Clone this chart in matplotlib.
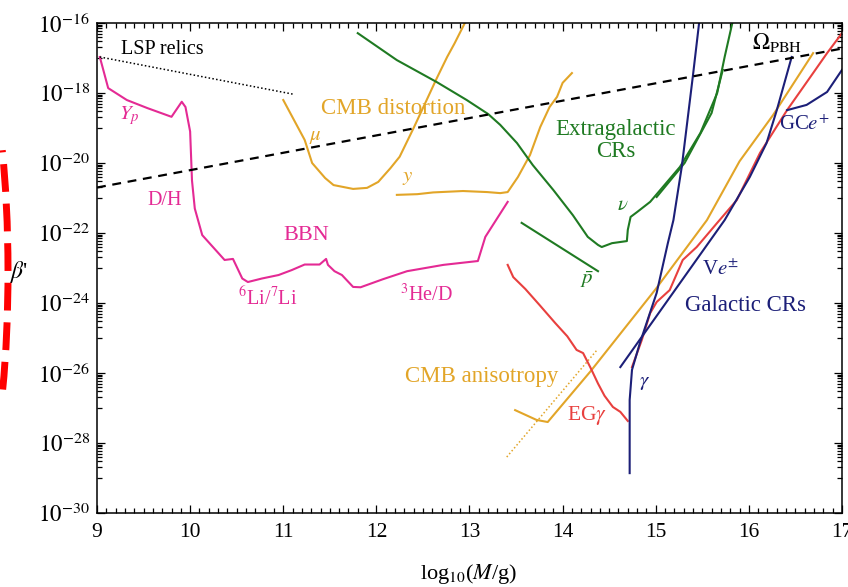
import matplotlib
matplotlib.use("Agg")
import matplotlib.pyplot as plt
import numpy as np
from matplotlib.patches import Arc
from matplotlib.ticker import FixedLocator, FixedFormatter, NullFormatter

plt.rcParams["font.family"] = ["Liberation Serif", "DejaVu Serif"]
plt.rcParams["mathtext.fontset"] = "stix"

# all curves: x = log10(M/g), y = log10(beta')
bbn_x = [9.03, 9.12, 9.32, 9.54, 9.80, 9.91, 9.95, 10.00, 10.02, 10.05, 10.13, 10.37,
         10.46, 10.56, 10.62, 10.77, 10.95, 11.09, 11.23, 11.39, 11.46, 11.48, 11.55,
         11.63, 11.75, 11.83, 12.07, 12.33, 12.72, 13.09, 13.17, 13.41]
bbn_y = [-16.97, -17.86, -18.2, -18.43, -18.68, -18.25, -18.4, -19.1, -20.5, -21.3,
         -22.06, -22.77, -22.74, -23.3, -23.4, -23.3, -23.2, -23.06, -22.9, -22.9,
         -22.74, -22.91, -23.09, -23.2, -23.54, -23.55, -23.32, -23.09, -22.91, -22.8,
         -22.11, -21.11]

mu_x = [11.0, 11.23, 11.31, 11.45, 11.54, 11.75, 11.9, 12.02, 12.15, 12.25, 12.4,
        12.54, 12.65, 12.76, 12.84, 12.95]
mu_y = [-18.2, -19.34, -20.0, -20.43, -20.63, -20.74, -20.71, -20.54, -20.15, -19.82,
        -19.0, -18.2, -17.57, -16.97, -16.58, -16.0]

ydist_x = [12.22, 12.44, 12.61, 12.93, 13.19, 13.33, 13.41, 13.52, 13.65, 13.76,
           13.86, 13.94, 14.0, 14.1]
ydist_y = [-20.91, -20.89, -20.84, -20.8, -20.83, -20.86, -20.83, -20.4, -19.77,
           -18.97, -18.4, -18.11, -17.71, -17.43]

egcr_x = [11.80, 12.22, 12.65, 12.97, 13.2, 13.33, 13.51, 13.68, 13.9, 14.11, 14.27,
          14.38, 14.42, 14.53, 14.69, 14.7, 14.73, 14.8, 14.94, 15.26, 15.48, 15.66,
          15.74, 15.83]
egcr_y = [-16.29, -17.06, -17.69, -18.2, -18.6, -18.91, -19.43, -20.06, -20.77, -21.49,
          -22.11, -22.34, -22.4, -22.29, -22.23, -21.91, -21.54, -21.4, -21.11, -20.11,
          -19.14, -18.0, -16.97, -15.91]

nu2_x = [15.01, 15.31, 15.60, 15.72]
nu2_y = [-20.97, -20.0, -18.57, -17.34]

pbar_x = [13.56, 14.38]
pbar_y = [-21.71, -23.09]

egg_x = [13.41, 13.47, 13.6, 13.75, 13.92, 14.05, 14.15, 14.22, 14.3, 14.38, 14.45,
         14.54, 14.62, 14.7]
egg_y = [-22.91, -23.26, -23.6, -24.05, -24.57, -24.95, -25.34, -25.43, -25.85, -26.3,
         -26.65, -26.97, -27.11, -27.37]

galred_x = [14.745, 14.85, 14.94, 15.01, 15.15, 15.29, 15.44, 15.66, 15.87, 16.12,
            16.41, 16.69, 16.84, 17.0]
galred_y = [-25.83, -25.06, -24.29, -23.97, -23.63, -22.77, -22.4, -21.71, -21.06,
            -19.71, -18.49, -17.43, -16.86, -16.29]

gamma_x = [14.72, 14.72, 14.745, 14.83, 15.01, 15.13, 15.19, 15.28, 15.40, 15.47]
gamma_y = [-28.86, -26.77, -25.91, -25.14, -23.71, -22.29, -21.63, -20.1, -17.49, -15.9]

ve_x = [14.62, 15.26, 15.74, 16.01, 16.19, 16.30, 16.46]
ve_y = [-25.83, -23.43, -21.63, -20.4, -19.43, -18.49, -16.97]

gce_x = [16.41, 16.62, 16.84, 17.0]
gce_y = [-18.49, -18.34, -17.97, -17.34]

aniso_x = [13.49, 13.72, 13.84, 14.3, 15.0, 15.55, 15.9, 16.26, 16.69]
aniso_y = [-27.06, -27.34, -27.4, -25.95, -23.6, -21.63, -19.95, -18.63, -16.86]

aniso_dot_x = [13.40, 14.37]
aniso_dot_y = [-28.4, -25.34]

lsp_x = [9.03, 11.1]
lsp_y = [-16.97, -18.03]

omega_x = [9.0, 17.0]
omega_y = [-20.7, -16.73]

x_ticks = [9, 10, 11, 12, 13, 14, 15, 16, 17]
y_tick_exps = [-30, -28, -26, -24, -22, -20, -18, -16]

PINK = "#e42a94"
ORANGE = "#e2a528"
GREEN = "#1f7a22"
RED = "#e8403e"
NAVY = "#1c1f78"


def p(ys):
    return 10.0 ** np.array(ys)


fig = plt.figure(figsize=(8.48, 5.87), dpi=100)
ax = fig.add_axes([0.1144, 0.126, 0.8785, 0.8348])

lw = 1.5
ax.plot(bbn_x, p(bbn_y), color=PINK, lw=lw)
ax.plot(mu_x, p(mu_y), color=ORANGE, lw=lw)
ax.plot(ydist_x, p(ydist_y), color=ORANGE, lw=lw)
ax.plot(aniso_x, p(aniso_y), color=ORANGE, lw=lw)
ax.plot(aniso_dot_x, p(aniso_dot_y), color=ORANGE, lw=1.1, ls=(0, (1, 1.5)))
ax.plot(egcr_x, p(egcr_y), color=GREEN, lw=lw)
ax.plot(nu2_x, p(nu2_y), color=GREEN, lw=lw)
ax.plot(pbar_x, p(pbar_y), color=GREEN, lw=lw)
ax.plot(egg_x, p(egg_y), color=RED, lw=lw)
ax.plot(galred_x, p(galred_y), color=RED, lw=lw)
ax.plot(gamma_x, p(gamma_y), color=NAVY, lw=lw)
ax.plot(ve_x, p(ve_y), color=NAVY, lw=lw)
ax.plot(gce_x, p(gce_y), color=NAVY, lw=lw)
ax.plot(lsp_x, p(lsp_y), color="black", lw=1.1, ls=(0, (1, 1.5)))
ax.plot(omega_x, p(omega_y), color="black", lw=1.6, ls=(0, (4, 3)))

ax.set_yscale("log")
ax.set_xlim(9, 17)
ax.set_ylim(1e-30, 1e-16)

ax.xaxis.set_major_locator(FixedLocator(x_ticks))
ax.xaxis.set_major_formatter(FixedFormatter([str(t) for t in x_ticks]))
ax.xaxis.set_minor_locator(FixedLocator(np.arange(9, 17.001, 0.1)))
ax.xaxis.set_minor_formatter(NullFormatter())
ax.yaxis.set_major_locator(FixedLocator([10.0 ** e for e in y_tick_exps]))
ax.yaxis.set_major_formatter(FixedFormatter([f"$10^{{{e}}}$" for e in y_tick_exps]))
ax.yaxis.set_minor_locator(FixedLocator(
    [k * 10.0 ** e for e in range(-29, -16, 2) for k in range(1, 10)]))
ax.yaxis.set_minor_formatter(NullFormatter())

ax.tick_params(which="both", direction="in", top=True, right=True, width=0.9)
ax.tick_params(which="major", length=6)
ax.tick_params(which="minor", length=3.5)
ax.tick_params(axis="x", labelsize=15.5, pad=7)
ax.tick_params(axis="y", labelsize=16.5, pad=5)
for s in ax.spines.values():
    s.set_linewidth(1.1)

ax.set_xlabel("log$_{10}$($M$/g)", fontsize=16)
ax.xaxis.set_label_coords(0.499, -0.100)
ax.set_ylabel("$\\beta$'", fontsize=17, rotation=0, va="center", ha="center")
ax.yaxis.set_label_coords(-0.104, 0.492)

labels = [
    ("LSP relics", 9.70, -16.76, "black", 14.5),
    ("$Y_p$", 9.35, -18.65, PINK, 15),
    ("D/H", 9.73, -21.06, PINK, 14.5),
    ("BBN", 11.25, -22.06, PINK, 16),
    ("$^6$Li/$^7$Li", 10.83, -23.86, PINK, 14.5),
    ("$^3$He/D", 12.54, -23.77, PINK, 14.5),
    ("CMB distortion", 12.18, -18.43, ORANGE, 16.5),
    ("$\\mu$", 11.34, -19.23, ORANGE, 15),
    ("$y$", 12.34, -20.4, ORANGE, 15),
    ("Extragalactic\nCRs", 14.57, -19.35, GREEN, 16.5),
    ("$\\nu$", 14.65, -21.2, GREEN, 15),
    ("$\\bar{p}$", 14.26, -23.34, GREEN, 15),
    ("EG$\\gamma$", 14.26, -27.2, RED, 15.5),
    ("CMB anisotropy", 13.13, -26.11, ORANGE, 16.5),
    ("$\\gamma$", 14.88, -26.26, NAVY, 15),
    ("V$e^{\\pm}$", 15.69, -23.06, NAVY, 15),
    ("Galactic CRs", 15.96, -24.06, NAVY, 16.5),
    ("GC$e^{+}$", 16.6, -18.91, NAVY, 15),
    ("$\\Omega_{\\mathrm{PBH}}$", 16.30, -16.57, "black", 16.5),
]
for txt, lx, ly, col, fs in labels:
    ax.text(lx, 10.0 ** ly, txt, color=col, fontsize=fs, ha="center", va="center",
            linespacing=1.05)

# red dashed mark on the left edge of the figure
arc = Arc((-20 / 848, 1 - 272 / 587), 56 / 848, 400 / 587, theta1=-82.4, theta2=82.8,
          transform=fig.transFigure, color="#ff0000", lw=5, ls=(0, (4, 1.7)),
          clip_on=False)
fig.add_artist(arc)

fig.savefig("out.png", dpi=100)
